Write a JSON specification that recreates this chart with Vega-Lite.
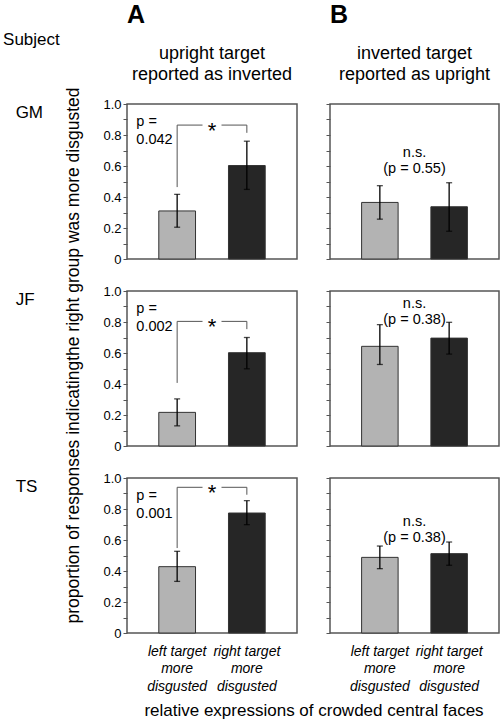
{
  "$schema": "https://vega.github.io/schema/vega-lite/v6.json",
  "background": "white",
  "padding": {"left": 2, "top": 2, "right": 0, "bottom": 0},
  "config": {"font": "Liberation Sans", "view": {"stroke": "#555555", "strokeWidth": 1.5}, "text": {"color": "#000000"}, "axisY": {"labelFontSize": 13, "labelColor": "#000000", "labelPadding": 2, "tickSize": 4, "tickColor": "#555555"}},
  "datasets": {
    "bars": [
      {"subject": "GM", "cond": "A", "group": "left target more disgusted", "value": 0.31, "lo": 0.205, "hi": 0.417},
      {"subject": "GM", "cond": "A", "group": "right target more disgusted", "value": 0.603, "lo": 0.449, "hi": 0.76},
      {"subject": "GM", "cond": "B", "group": "left target more disgusted", "value": 0.365, "lo": 0.257, "hi": 0.473},
      {"subject": "GM", "cond": "B", "group": "right target more disgusted", "value": 0.337, "lo": 0.179, "hi": 0.492},
      {"subject": "JF", "cond": "A", "group": "left target more disgusted", "value": 0.217, "lo": 0.13, "hi": 0.304},
      {"subject": "JF", "cond": "A", "group": "right target more disgusted", "value": 0.602, "lo": 0.498, "hi": 0.7},
      {"subject": "JF", "cond": "B", "group": "left target more disgusted", "value": 0.643, "lo": 0.526, "hi": 0.783},
      {"subject": "JF", "cond": "B", "group": "right target more disgusted", "value": 0.696, "lo": 0.593, "hi": 0.798},
      {"subject": "TS", "cond": "A", "group": "left target more disgusted", "value": 0.428, "lo": 0.333, "hi": 0.527},
      {"subject": "TS", "cond": "A", "group": "right target more disgusted", "value": 0.774, "lo": 0.699, "hi": 0.854},
      {"subject": "TS", "cond": "B", "group": "left target more disgusted", "value": 0.488, "lo": 0.415, "hi": 0.561},
      {"subject": "TS", "cond": "B", "group": "right target more disgusted", "value": 0.512, "lo": 0.437, "hi": 0.587}
    ],
    "bracket": [
      {"subject": "GM", "group": "left target more disgusted", "step": 1, "y": 0.464},
      {"subject": "GM", "group": "left target more disgusted", "step": 2, "y": 0.864},
      {"subject": "GM", "group": "right target more disgusted", "step": 3, "y": 0.864},
      {"subject": "GM", "group": "right target more disgusted", "step": 4, "y": 0.814},
      {"subject": "JF", "group": "left target more disgusted", "step": 1, "y": 0.407},
      {"subject": "JF", "group": "left target more disgusted", "step": 2, "y": 0.804},
      {"subject": "JF", "group": "right target more disgusted", "step": 3, "y": 0.804},
      {"subject": "JF", "group": "right target more disgusted", "step": 4, "y": 0.754},
      {"subject": "TS", "group": "left target more disgusted", "step": 1, "y": 0.548},
      {"subject": "TS", "group": "left target more disgusted", "step": 2, "y": 0.94},
      {"subject": "TS", "group": "right target more disgusted", "step": 3, "y": 0.94},
      {"subject": "TS", "group": "right target more disgusted", "step": 4, "y": 0.892}
    ],
    "sig": [
      {"subject": "GM", "p": "0.042"},
      {"subject": "JF", "p": "0.002"},
      {"subject": "TS", "p": "0.001"}
    ],
    "ns": [
      {"subject": "GM", "p": "0.55"},
      {"subject": "JF", "p": "0.38"},
      {"subject": "TS", "p": "0.38"}
    ]
  },
  "bounds": "flush",
  "columns": 2,
  "spacing": {"row": 32, "column": 33},
  "concat": [
    {
      "width": 170, "height": 155,
      "resolve": {"scale": {"x": "independent", "y": "independent"}},
      "layer": [
        {
          "layer": [
            {
              "data": {"name": "bars"},
              "transform": [{"filter": "datum.subject == 'GM' && datum.cond == 'A'"}],
              "mark": {"type": "bar", "stroke": "#333333", "strokeWidth": 1},
              "encoding": {
                "x": {"field": "group", "type": "nominal", "scale": {"domain": ["left target more disgusted", "right target more disgusted"], "paddingInner": 0.473, "paddingOuter": 0.456}, "axis": null},
                "y": {"field": "value", "type": "quantitative", "scale": {"domain": [0, 1]}, "axis": {"values": [0, 0.1, 0.2, 0.3, 0.4, 0.5, 0.6, 0.7, 0.8, 0.9, 1], "labelExpr": "datum.value == 0 ? '0' : (round(datum.value * 10) % 2 == 0 ? format(datum.value, '.1f') : '')", "domain": false, "grid": false, "tickSize": 4, "tickColor": "#555555", "tickWidth": 1, "labelFontSize": 13, "labelColor": "#000000", "labelPadding": 2, "labelFlush": false, "labelOverlap": false, "title": null}},
                "color": {"field": "group", "type": "nominal", "scale": {"domain": ["left target more disgusted", "right target more disgusted"], "range": ["#b3b3b3", "#262626"]}, "legend": null}
              }
            },
            {
              "data": {"name": "bars"},
              "transform": [{"filter": "datum.subject == 'GM' && datum.cond == 'A'"}],
              "mark": {"type": "rule", "color": "#000000", "strokeWidth": 1.3},
              "encoding": {
                "x": {"field": "group", "type": "nominal", "axis": null},
                "y": {"field": "lo", "type": "quantitative", "scale": {"domain": [0, 1]}, "axis": {"values": [0, 0.1, 0.2, 0.3, 0.4, 0.5, 0.6, 0.7, 0.8, 0.9, 1], "labelExpr": "datum.value == 0 ? '0' : (round(datum.value * 10) % 2 == 0 ? format(datum.value, '.1f') : '')", "domain": false, "grid": false, "tickSize": 4, "tickColor": "#555555", "tickWidth": 1, "labelFontSize": 13, "labelColor": "#000000", "labelPadding": 2, "labelFlush": false, "labelOverlap": false, "title": null}},
                "y2": {"field": "hi"}
              }
            },
            {
              "data": {"name": "bars"},
              "transform": [{"filter": "datum.subject == 'GM' && datum.cond == 'A'"}],
              "mark": {"type": "tick", "color": "#000000", "thickness": 1.3, "size": 6},
              "encoding": {
                "x": {"field": "group", "type": "nominal", "axis": null},
                "y": {"field": "lo", "type": "quantitative", "scale": {"domain": [0, 1]}, "axis": {"values": [0, 0.1, 0.2, 0.3, 0.4, 0.5, 0.6, 0.7, 0.8, 0.9, 1], "labelExpr": "datum.value == 0 ? '0' : (round(datum.value * 10) % 2 == 0 ? format(datum.value, '.1f') : '')", "domain": false, "grid": false, "tickSize": 4, "tickColor": "#555555", "tickWidth": 1, "labelFontSize": 13, "labelColor": "#000000", "labelPadding": 2, "labelFlush": false, "labelOverlap": false, "title": null}}
              }
            },
            {
              "data": {"name": "bars"},
              "transform": [{"filter": "datum.subject == 'GM' && datum.cond == 'A'"}],
              "mark": {"type": "tick", "color": "#000000", "thickness": 1.3, "size": 6},
              "encoding": {
                "x": {"field": "group", "type": "nominal", "axis": null},
                "y": {"field": "hi", "type": "quantitative", "scale": {"domain": [0, 1]}, "axis": {"values": [0, 0.1, 0.2, 0.3, 0.4, 0.5, 0.6, 0.7, 0.8, 0.9, 1], "labelExpr": "datum.value == 0 ? '0' : (round(datum.value * 10) % 2 == 0 ? format(datum.value, '.1f') : '')", "domain": false, "grid": false, "tickSize": 4, "tickColor": "#555555", "tickWidth": 1, "labelFontSize": 13, "labelColor": "#000000", "labelPadding": 2, "labelFlush": false, "labelOverlap": false, "title": null}}
              }
            },
            {
              "data": {"name": "bracket"},
              "transform": [{"filter": "datum.subject == 'GM'"}],
              "mark": {"type": "line", "color": "#555555", "strokeWidth": 1},
              "encoding": {
                "x": {"field": "group", "type": "nominal", "axis": null},
                "y": {"field": "y", "type": "quantitative", "scale": {"domain": [0, 1]}, "axis": {"values": [0, 0.1, 0.2, 0.3, 0.4, 0.5, 0.6, 0.7, 0.8, 0.9, 1], "labelExpr": "datum.value == 0 ? '0' : (round(datum.value * 10) % 2 == 0 ? format(datum.value, '.1f') : '')", "domain": false, "grid": false, "tickSize": 4, "tickColor": "#555555", "tickWidth": 1, "labelFontSize": 13, "labelColor": "#000000", "labelPadding": 2, "labelFlush": false, "labelOverlap": false, "title": null}},
                "order": {"field": "step", "type": "quantitative"}
              }
            },
            {
              "data": {"name": "bracket"},
              "transform": [{"filter": "datum.subject == 'GM' && datum.step == 2"}],
              "mark": {"type": "point", "shape": "M-1,-0.4L1,-0.4L1,0.4L-1,0.4Z", "size": 361, "filled": true, "color": "#ffffff", "opacity": 1, "strokeWidth": 0},
              "encoding": {
                "y": {"field": "y", "type": "quantitative", "scale": {"domain": [0, 1]}, "axis": {"values": [0, 0.1, 0.2, 0.3, 0.4, 0.5, 0.6, 0.7, 0.8, 0.9, 1], "labelExpr": "datum.value == 0 ? '0' : (round(datum.value * 10) % 2 == 0 ? format(datum.value, '.1f') : '')", "domain": false, "grid": false, "tickSize": 4, "tickColor": "#555555", "tickWidth": 1, "labelFontSize": 13, "labelColor": "#000000", "labelPadding": 2, "labelFlush": false, "labelOverlap": false, "title": null}}
              }
            },
            {
              "data": {"name": "bracket"},
              "transform": [{"filter": "datum.subject == 'GM' && datum.step == 2"}],
              "mark": {"type": "text", "text": "*", "fontSize": 22, "baseline": "alphabetic", "dy": 12.5},
              "encoding": {
                "y": {"field": "y", "type": "quantitative", "scale": {"domain": [0, 1]}, "axis": {"values": [0, 0.1, 0.2, 0.3, 0.4, 0.5, 0.6, 0.7, 0.8, 0.9, 1], "labelExpr": "datum.value == 0 ? '0' : (round(datum.value * 10) % 2 == 0 ? format(datum.value, '.1f') : '')", "domain": false, "grid": false, "tickSize": 4, "tickColor": "#555555", "tickWidth": 1, "labelFontSize": 13, "labelColor": "#000000", "labelPadding": 2, "labelFlush": false, "labelOverlap": false, "title": null}}
              }
            }
          ]
        },
        {
          "data": {"name": "sig"},
          "transform": [{"filter": "datum.subject == 'GM'"}, {"calculate": "['p =', datum.p]", "as": "label"}],
          "layer": [
            {
              "mark": {"type": "text", "align": "left", "baseline": "alphabetic", "fontSize": 14.5, "lineHeight": 17.5},
              "encoding": {
                "x": {"datum": 0.055, "type": "quantitative", "scale": {"domain": [0, 1]}, "axis": null},
                "y": {"datum": 0.856, "type": "quantitative", "scale": {"domain": [0, 1]}, "axis": null},
                "text": {"field": "label", "type": "nominal"}
              }
            },
            {
              "mark": {"type": "text", "align": "left", "baseline": "alphabetic", "fontSize": 17},
              "encoding": {
                "x": {"datum": -0.655, "type": "quantitative", "scale": {"domain": [0, 1]}, "axis": null},
                "y": {"datum": 0.91, "type": "quantitative", "scale": {"domain": [0, 1]}, "axis": null},
                "text": {"field": "subject", "type": "nominal"}
              }
            },
            {
              "mark": {"type": "text", "align": "left", "baseline": "alphabetic", "fontSize": 17, "text": "Subject"},
              "encoding": {
                "x": {"datum": -0.729, "type": "quantitative", "scale": {"domain": [0, 1]}, "axis": null},
                "y": {"datum": 1.381, "type": "quantitative", "scale": {"domain": [0, 1]}, "axis": null}
              }
            },
            {
              "mark": {"type": "text", "align": "left", "baseline": "alphabetic", "fontSize": 25, "fontWeight": "bold", "text": "A"},
              "encoding": {
                "x": {"datum": 0, "type": "quantitative", "scale": {"domain": [0, 1]}, "axis": null},
                "y": {"datum": 1.523, "type": "quantitative", "scale": {"domain": [0, 1]}, "axis": null}
              }
            },
            {
              "mark": {"type": "text", "align": "center", "baseline": "alphabetic", "fontSize": 18, "lineHeight": 21, "text": ["upright target", "reported as inverted"]},
              "encoding": {
                "y": {"datum": 1.29, "type": "quantitative", "scale": {"domain": [0, 1]}, "axis": null}
              }
            }
          ]
        }
      ]
    },
    {
      "width": 169, "height": 155,
      "resolve": {"scale": {"x": "independent", "y": "independent"}},
      "layer": [
        {
          "layer": [
            {
              "data": {"name": "bars"},
              "transform": [{"filter": "datum.subject == 'GM' && datum.cond == 'B'"}],
              "mark": {"type": "bar", "stroke": "#333333", "strokeWidth": 1},
              "encoding": {
                "x": {"field": "group", "type": "nominal", "scale": {"domain": ["left target more disgusted", "right target more disgusted"], "paddingInner": 0.473, "paddingOuter": 0.456}, "axis": null},
                "y": {"field": "value", "type": "quantitative", "scale": {"domain": [0, 1]}, "axis": {"values": [0, 0.1, 0.2, 0.3, 0.4, 0.5, 0.6, 0.7, 0.8, 0.9, 1], "labels": false, "domain": false, "grid": false, "tickSize": 4, "tickColor": "#555555", "tickWidth": 1, "title": null}},
                "color": {"field": "group", "type": "nominal", "scale": {"domain": ["left target more disgusted", "right target more disgusted"], "range": ["#b3b3b3", "#262626"]}, "legend": null}
              }
            },
            {
              "data": {"name": "bars"},
              "transform": [{"filter": "datum.subject == 'GM' && datum.cond == 'B'"}],
              "mark": {"type": "rule", "color": "#000000", "strokeWidth": 1.3},
              "encoding": {
                "x": {"field": "group", "type": "nominal", "axis": null},
                "y": {"field": "lo", "type": "quantitative", "scale": {"domain": [0, 1]}, "axis": {"values": [0, 0.1, 0.2, 0.3, 0.4, 0.5, 0.6, 0.7, 0.8, 0.9, 1], "labels": false, "domain": false, "grid": false, "tickSize": 4, "tickColor": "#555555", "tickWidth": 1, "title": null}},
                "y2": {"field": "hi"}
              }
            },
            {
              "data": {"name": "bars"},
              "transform": [{"filter": "datum.subject == 'GM' && datum.cond == 'B'"}],
              "mark": {"type": "tick", "color": "#000000", "thickness": 1.3, "size": 6},
              "encoding": {
                "x": {"field": "group", "type": "nominal", "axis": null},
                "y": {"field": "lo", "type": "quantitative", "scale": {"domain": [0, 1]}, "axis": {"values": [0, 0.1, 0.2, 0.3, 0.4, 0.5, 0.6, 0.7, 0.8, 0.9, 1], "labels": false, "domain": false, "grid": false, "tickSize": 4, "tickColor": "#555555", "tickWidth": 1, "title": null}}
              }
            },
            {
              "data": {"name": "bars"},
              "transform": [{"filter": "datum.subject == 'GM' && datum.cond == 'B'"}],
              "mark": {"type": "tick", "color": "#000000", "thickness": 1.3, "size": 6},
              "encoding": {
                "x": {"field": "group", "type": "nominal", "axis": null},
                "y": {"field": "hi", "type": "quantitative", "scale": {"domain": [0, 1]}, "axis": {"values": [0, 0.1, 0.2, 0.3, 0.4, 0.5, 0.6, 0.7, 0.8, 0.9, 1], "labels": false, "domain": false, "grid": false, "tickSize": 4, "tickColor": "#555555", "tickWidth": 1, "title": null}}
              }
            }
          ]
        },
        {
          "data": {"name": "ns"},
          "transform": [{"filter": "datum.subject == 'GM'"}, {"calculate": "['n.s.', '(p = ' + datum.p + ')']", "as": "label"}],
          "layer": [
            {
              "mark": {"type": "text", "align": "center", "baseline": "alphabetic", "fontSize": 14.5, "lineHeight": 16},
              "encoding": {
                "y": {"datum": 0.655, "type": "quantitative", "scale": {"domain": [0, 1]}, "axis": null},
                "text": {"field": "label", "type": "nominal"}
              }
            },
            {
              "mark": {"type": "text", "align": "left", "baseline": "alphabetic", "fontSize": 25, "fontWeight": "bold", "text": "B"},
              "encoding": {
                "x": {"datum": 0, "type": "quantitative", "scale": {"domain": [0, 1]}, "axis": null},
                "y": {"datum": 1.523, "type": "quantitative", "scale": {"domain": [0, 1]}, "axis": null}
              }
            },
            {
              "mark": {"type": "text", "align": "center", "baseline": "alphabetic", "fontSize": 18, "lineHeight": 21, "text": ["inverted target", "reported as upright"]},
              "encoding": {
                "y": {"datum": 1.29, "type": "quantitative", "scale": {"domain": [0, 1]}, "axis": null}
              }
            }
          ]
        }
      ]
    },
    {
      "width": 170, "height": 155,
      "resolve": {"scale": {"x": "independent", "y": "independent"}},
      "layer": [
        {
          "layer": [
            {
              "data": {"name": "bars"},
              "transform": [{"filter": "datum.subject == 'JF' && datum.cond == 'A'"}],
              "mark": {"type": "bar", "stroke": "#333333", "strokeWidth": 1},
              "encoding": {
                "x": {"field": "group", "type": "nominal", "scale": {"domain": ["left target more disgusted", "right target more disgusted"], "paddingInner": 0.473, "paddingOuter": 0.456}, "axis": null},
                "y": {"field": "value", "type": "quantitative", "scale": {"domain": [0, 1]}, "axis": {"values": [0, 0.1, 0.2, 0.3, 0.4, 0.5, 0.6, 0.7, 0.8, 0.9, 1], "labelExpr": "datum.value == 0 ? '0' : (round(datum.value * 10) % 2 == 0 ? format(datum.value, '.1f') : '')", "domain": false, "grid": false, "tickSize": 4, "tickColor": "#555555", "tickWidth": 1, "labelFontSize": 13, "labelColor": "#000000", "labelPadding": 2, "labelFlush": false, "labelOverlap": false, "title": "proportion of responses indicatingthe right group was more disgusted", "titleFontSize": 17.5, "titleFontWeight": "normal", "titleColor": "#000000", "titlePadding": 20, "titleY": 64}},
                "color": {"field": "group", "type": "nominal", "scale": {"domain": ["left target more disgusted", "right target more disgusted"], "range": ["#b3b3b3", "#262626"]}, "legend": null}
              }
            },
            {
              "data": {"name": "bars"},
              "transform": [{"filter": "datum.subject == 'JF' && datum.cond == 'A'"}],
              "mark": {"type": "rule", "color": "#000000", "strokeWidth": 1.3},
              "encoding": {
                "x": {"field": "group", "type": "nominal", "axis": null},
                "y": {"field": "lo", "type": "quantitative", "scale": {"domain": [0, 1]}, "axis": {"values": [0, 0.1, 0.2, 0.3, 0.4, 0.5, 0.6, 0.7, 0.8, 0.9, 1], "labelExpr": "datum.value == 0 ? '0' : (round(datum.value * 10) % 2 == 0 ? format(datum.value, '.1f') : '')", "domain": false, "grid": false, "tickSize": 4, "tickColor": "#555555", "tickWidth": 1, "labelFontSize": 13, "labelColor": "#000000", "labelPadding": 2, "labelFlush": false, "labelOverlap": false, "title": "proportion of responses indicatingthe right group was more disgusted", "titleFontSize": 17.5, "titleFontWeight": "normal", "titleColor": "#000000", "titlePadding": 20, "titleY": 64}},
                "y2": {"field": "hi"}
              }
            },
            {
              "data": {"name": "bars"},
              "transform": [{"filter": "datum.subject == 'JF' && datum.cond == 'A'"}],
              "mark": {"type": "tick", "color": "#000000", "thickness": 1.3, "size": 6},
              "encoding": {
                "x": {"field": "group", "type": "nominal", "axis": null},
                "y": {"field": "lo", "type": "quantitative", "scale": {"domain": [0, 1]}, "axis": {"values": [0, 0.1, 0.2, 0.3, 0.4, 0.5, 0.6, 0.7, 0.8, 0.9, 1], "labelExpr": "datum.value == 0 ? '0' : (round(datum.value * 10) % 2 == 0 ? format(datum.value, '.1f') : '')", "domain": false, "grid": false, "tickSize": 4, "tickColor": "#555555", "tickWidth": 1, "labelFontSize": 13, "labelColor": "#000000", "labelPadding": 2, "labelFlush": false, "labelOverlap": false, "title": "proportion of responses indicatingthe right group was more disgusted", "titleFontSize": 17.5, "titleFontWeight": "normal", "titleColor": "#000000", "titlePadding": 20, "titleY": 64}}
              }
            },
            {
              "data": {"name": "bars"},
              "transform": [{"filter": "datum.subject == 'JF' && datum.cond == 'A'"}],
              "mark": {"type": "tick", "color": "#000000", "thickness": 1.3, "size": 6},
              "encoding": {
                "x": {"field": "group", "type": "nominal", "axis": null},
                "y": {"field": "hi", "type": "quantitative", "scale": {"domain": [0, 1]}, "axis": {"values": [0, 0.1, 0.2, 0.3, 0.4, 0.5, 0.6, 0.7, 0.8, 0.9, 1], "labelExpr": "datum.value == 0 ? '0' : (round(datum.value * 10) % 2 == 0 ? format(datum.value, '.1f') : '')", "domain": false, "grid": false, "tickSize": 4, "tickColor": "#555555", "tickWidth": 1, "labelFontSize": 13, "labelColor": "#000000", "labelPadding": 2, "labelFlush": false, "labelOverlap": false, "title": "proportion of responses indicatingthe right group was more disgusted", "titleFontSize": 17.5, "titleFontWeight": "normal", "titleColor": "#000000", "titlePadding": 20, "titleY": 64}}
              }
            },
            {
              "data": {"name": "bracket"},
              "transform": [{"filter": "datum.subject == 'JF'"}],
              "mark": {"type": "line", "color": "#555555", "strokeWidth": 1},
              "encoding": {
                "x": {"field": "group", "type": "nominal", "axis": null},
                "y": {"field": "y", "type": "quantitative", "scale": {"domain": [0, 1]}, "axis": {"values": [0, 0.1, 0.2, 0.3, 0.4, 0.5, 0.6, 0.7, 0.8, 0.9, 1], "labelExpr": "datum.value == 0 ? '0' : (round(datum.value * 10) % 2 == 0 ? format(datum.value, '.1f') : '')", "domain": false, "grid": false, "tickSize": 4, "tickColor": "#555555", "tickWidth": 1, "labelFontSize": 13, "labelColor": "#000000", "labelPadding": 2, "labelFlush": false, "labelOverlap": false, "title": "proportion of responses indicatingthe right group was more disgusted", "titleFontSize": 17.5, "titleFontWeight": "normal", "titleColor": "#000000", "titlePadding": 20, "titleY": 64}},
                "order": {"field": "step", "type": "quantitative"}
              }
            },
            {
              "data": {"name": "bracket"},
              "transform": [{"filter": "datum.subject == 'JF' && datum.step == 2"}],
              "mark": {"type": "point", "shape": "M-1,-0.4L1,-0.4L1,0.4L-1,0.4Z", "size": 361, "filled": true, "color": "#ffffff", "opacity": 1, "strokeWidth": 0},
              "encoding": {
                "y": {"field": "y", "type": "quantitative", "scale": {"domain": [0, 1]}, "axis": {"values": [0, 0.1, 0.2, 0.3, 0.4, 0.5, 0.6, 0.7, 0.8, 0.9, 1], "labelExpr": "datum.value == 0 ? '0' : (round(datum.value * 10) % 2 == 0 ? format(datum.value, '.1f') : '')", "domain": false, "grid": false, "tickSize": 4, "tickColor": "#555555", "tickWidth": 1, "labelFontSize": 13, "labelColor": "#000000", "labelPadding": 2, "labelFlush": false, "labelOverlap": false, "title": "proportion of responses indicatingthe right group was more disgusted", "titleFontSize": 17.5, "titleFontWeight": "normal", "titleColor": "#000000", "titlePadding": 20, "titleY": 64}}
              }
            },
            {
              "data": {"name": "bracket"},
              "transform": [{"filter": "datum.subject == 'JF' && datum.step == 2"}],
              "mark": {"type": "text", "text": "*", "fontSize": 22, "baseline": "alphabetic", "dy": 12.5},
              "encoding": {
                "y": {"field": "y", "type": "quantitative", "scale": {"domain": [0, 1]}, "axis": {"values": [0, 0.1, 0.2, 0.3, 0.4, 0.5, 0.6, 0.7, 0.8, 0.9, 1], "labelExpr": "datum.value == 0 ? '0' : (round(datum.value * 10) % 2 == 0 ? format(datum.value, '.1f') : '')", "domain": false, "grid": false, "tickSize": 4, "tickColor": "#555555", "tickWidth": 1, "labelFontSize": 13, "labelColor": "#000000", "labelPadding": 2, "labelFlush": false, "labelOverlap": false, "title": "proportion of responses indicatingthe right group was more disgusted", "titleFontSize": 17.5, "titleFontWeight": "normal", "titleColor": "#000000", "titlePadding": 20, "titleY": 64}}
              }
            }
          ]
        },
        {
          "data": {"name": "sig"},
          "transform": [{"filter": "datum.subject == 'JF'"}, {"calculate": "['p =', datum.p]", "as": "label"}],
          "layer": [
            {
              "mark": {"type": "text", "align": "left", "baseline": "alphabetic", "fontSize": 14.5, "lineHeight": 17.5},
              "encoding": {
                "x": {"datum": 0.055, "type": "quantitative", "scale": {"domain": [0, 1]}, "axis": null},
                "y": {"datum": 0.856, "type": "quantitative", "scale": {"domain": [0, 1]}, "axis": null},
                "text": {"field": "label", "type": "nominal"}
              }
            },
            {
              "mark": {"type": "text", "align": "left", "baseline": "alphabetic", "fontSize": 17},
              "encoding": {
                "x": {"datum": -0.655, "type": "quantitative", "scale": {"domain": [0, 1]}, "axis": null},
                "y": {"datum": 0.91, "type": "quantitative", "scale": {"domain": [0, 1]}, "axis": null},
                "text": {"field": "subject", "type": "nominal"}
              }
            }
          ]
        }
      ]
    },
    {
      "width": 169, "height": 155,
      "resolve": {"scale": {"x": "independent", "y": "independent"}},
      "layer": [
        {
          "layer": [
            {
              "data": {"name": "bars"},
              "transform": [{"filter": "datum.subject == 'JF' && datum.cond == 'B'"}],
              "mark": {"type": "bar", "stroke": "#333333", "strokeWidth": 1},
              "encoding": {
                "x": {"field": "group", "type": "nominal", "scale": {"domain": ["left target more disgusted", "right target more disgusted"], "paddingInner": 0.473, "paddingOuter": 0.456}, "axis": null},
                "y": {"field": "value", "type": "quantitative", "scale": {"domain": [0, 1]}, "axis": {"values": [0, 0.1, 0.2, 0.3, 0.4, 0.5, 0.6, 0.7, 0.8, 0.9, 1], "labels": false, "domain": false, "grid": false, "tickSize": 4, "tickColor": "#555555", "tickWidth": 1, "title": null}},
                "color": {"field": "group", "type": "nominal", "scale": {"domain": ["left target more disgusted", "right target more disgusted"], "range": ["#b3b3b3", "#262626"]}, "legend": null}
              }
            },
            {
              "data": {"name": "bars"},
              "transform": [{"filter": "datum.subject == 'JF' && datum.cond == 'B'"}],
              "mark": {"type": "rule", "color": "#000000", "strokeWidth": 1.3},
              "encoding": {
                "x": {"field": "group", "type": "nominal", "axis": null},
                "y": {"field": "lo", "type": "quantitative", "scale": {"domain": [0, 1]}, "axis": {"values": [0, 0.1, 0.2, 0.3, 0.4, 0.5, 0.6, 0.7, 0.8, 0.9, 1], "labels": false, "domain": false, "grid": false, "tickSize": 4, "tickColor": "#555555", "tickWidth": 1, "title": null}},
                "y2": {"field": "hi"}
              }
            },
            {
              "data": {"name": "bars"},
              "transform": [{"filter": "datum.subject == 'JF' && datum.cond == 'B'"}],
              "mark": {"type": "tick", "color": "#000000", "thickness": 1.3, "size": 6},
              "encoding": {
                "x": {"field": "group", "type": "nominal", "axis": null},
                "y": {"field": "lo", "type": "quantitative", "scale": {"domain": [0, 1]}, "axis": {"values": [0, 0.1, 0.2, 0.3, 0.4, 0.5, 0.6, 0.7, 0.8, 0.9, 1], "labels": false, "domain": false, "grid": false, "tickSize": 4, "tickColor": "#555555", "tickWidth": 1, "title": null}}
              }
            },
            {
              "data": {"name": "bars"},
              "transform": [{"filter": "datum.subject == 'JF' && datum.cond == 'B'"}],
              "mark": {"type": "tick", "color": "#000000", "thickness": 1.3, "size": 6},
              "encoding": {
                "x": {"field": "group", "type": "nominal", "axis": null},
                "y": {"field": "hi", "type": "quantitative", "scale": {"domain": [0, 1]}, "axis": {"values": [0, 0.1, 0.2, 0.3, 0.4, 0.5, 0.6, 0.7, 0.8, 0.9, 1], "labels": false, "domain": false, "grid": false, "tickSize": 4, "tickColor": "#555555", "tickWidth": 1, "title": null}}
              }
            }
          ]
        },
        {
          "data": {"name": "ns"},
          "transform": [{"filter": "datum.subject == 'JF'"}, {"calculate": "['n.s.', '(p = ' + datum.p + ')']", "as": "label"}],
          "layer": [
            {
              "mark": {"type": "text", "align": "center", "baseline": "alphabetic", "fontSize": 14.5, "lineHeight": 16},
              "encoding": {
                "y": {"datum": 0.892, "type": "quantitative", "scale": {"domain": [0, 1]}, "axis": null},
                "text": {"field": "label", "type": "nominal"}
              }
            }
          ]
        }
      ]
    },
    {
      "width": 170, "height": 155,
      "resolve": {"scale": {"x": "independent", "y": "independent"}},
      "layer": [
        {
          "layer": [
            {
              "data": {"name": "bars"},
              "transform": [{"filter": "datum.subject == 'TS' && datum.cond == 'A'"}],
              "mark": {"type": "bar", "stroke": "#333333", "strokeWidth": 1},
              "encoding": {
                "x": {"field": "group", "type": "nominal", "scale": {"domain": ["left target more disgusted", "right target more disgusted"], "paddingInner": 0.473, "paddingOuter": 0.456}, "axis": {"title": null, "domain": false, "ticks": false, "tickSize": 0, "labelExpr": "split(replace(datum.value, ' more ', '|more|'), '|')", "labelFontSize": 14, "labelFontStyle": "italic", "labelColor": "#000000", "labelPadding": 11, "labelLineHeight": 17.5, "labelAngle": 0, "labelLimit": 0, "labelOverlap": false}},
                "y": {"field": "value", "type": "quantitative", "scale": {"domain": [0, 1]}, "axis": {"values": [0, 0.1, 0.2, 0.3, 0.4, 0.5, 0.6, 0.7, 0.8, 0.9, 1], "labelExpr": "datum.value == 0 ? '0' : (round(datum.value * 10) % 2 == 0 ? format(datum.value, '.1f') : '')", "domain": false, "grid": false, "tickSize": 4, "tickColor": "#555555", "tickWidth": 1, "labelFontSize": 13, "labelColor": "#000000", "labelPadding": 2, "labelFlush": false, "labelOverlap": false, "title": null}},
                "color": {"field": "group", "type": "nominal", "scale": {"domain": ["left target more disgusted", "right target more disgusted"], "range": ["#b3b3b3", "#262626"]}, "legend": null}
              }
            },
            {
              "data": {"name": "bars"},
              "transform": [{"filter": "datum.subject == 'TS' && datum.cond == 'A'"}],
              "mark": {"type": "rule", "color": "#000000", "strokeWidth": 1.3},
              "encoding": {
                "x": {"field": "group", "type": "nominal", "axis": {"title": null, "domain": false, "ticks": false, "tickSize": 0, "labelExpr": "split(replace(datum.value, ' more ', '|more|'), '|')", "labelFontSize": 14, "labelFontStyle": "italic", "labelColor": "#000000", "labelPadding": 11, "labelLineHeight": 17.5, "labelAngle": 0, "labelLimit": 0, "labelOverlap": false}},
                "y": {"field": "lo", "type": "quantitative", "scale": {"domain": [0, 1]}, "axis": {"values": [0, 0.1, 0.2, 0.3, 0.4, 0.5, 0.6, 0.7, 0.8, 0.9, 1], "labelExpr": "datum.value == 0 ? '0' : (round(datum.value * 10) % 2 == 0 ? format(datum.value, '.1f') : '')", "domain": false, "grid": false, "tickSize": 4, "tickColor": "#555555", "tickWidth": 1, "labelFontSize": 13, "labelColor": "#000000", "labelPadding": 2, "labelFlush": false, "labelOverlap": false, "title": null}},
                "y2": {"field": "hi"}
              }
            },
            {
              "data": {"name": "bars"},
              "transform": [{"filter": "datum.subject == 'TS' && datum.cond == 'A'"}],
              "mark": {"type": "tick", "color": "#000000", "thickness": 1.3, "size": 6},
              "encoding": {
                "x": {"field": "group", "type": "nominal", "axis": {"title": null, "domain": false, "ticks": false, "tickSize": 0, "labelExpr": "split(replace(datum.value, ' more ', '|more|'), '|')", "labelFontSize": 14, "labelFontStyle": "italic", "labelColor": "#000000", "labelPadding": 11, "labelLineHeight": 17.5, "labelAngle": 0, "labelLimit": 0, "labelOverlap": false}},
                "y": {"field": "lo", "type": "quantitative", "scale": {"domain": [0, 1]}, "axis": {"values": [0, 0.1, 0.2, 0.3, 0.4, 0.5, 0.6, 0.7, 0.8, 0.9, 1], "labelExpr": "datum.value == 0 ? '0' : (round(datum.value * 10) % 2 == 0 ? format(datum.value, '.1f') : '')", "domain": false, "grid": false, "tickSize": 4, "tickColor": "#555555", "tickWidth": 1, "labelFontSize": 13, "labelColor": "#000000", "labelPadding": 2, "labelFlush": false, "labelOverlap": false, "title": null}}
              }
            },
            {
              "data": {"name": "bars"},
              "transform": [{"filter": "datum.subject == 'TS' && datum.cond == 'A'"}],
              "mark": {"type": "tick", "color": "#000000", "thickness": 1.3, "size": 6},
              "encoding": {
                "x": {"field": "group", "type": "nominal", "axis": {"title": null, "domain": false, "ticks": false, "tickSize": 0, "labelExpr": "split(replace(datum.value, ' more ', '|more|'), '|')", "labelFontSize": 14, "labelFontStyle": "italic", "labelColor": "#000000", "labelPadding": 11, "labelLineHeight": 17.5, "labelAngle": 0, "labelLimit": 0, "labelOverlap": false}},
                "y": {"field": "hi", "type": "quantitative", "scale": {"domain": [0, 1]}, "axis": {"values": [0, 0.1, 0.2, 0.3, 0.4, 0.5, 0.6, 0.7, 0.8, 0.9, 1], "labelExpr": "datum.value == 0 ? '0' : (round(datum.value * 10) % 2 == 0 ? format(datum.value, '.1f') : '')", "domain": false, "grid": false, "tickSize": 4, "tickColor": "#555555", "tickWidth": 1, "labelFontSize": 13, "labelColor": "#000000", "labelPadding": 2, "labelFlush": false, "labelOverlap": false, "title": null}}
              }
            },
            {
              "data": {"name": "bracket"},
              "transform": [{"filter": "datum.subject == 'TS'"}],
              "mark": {"type": "line", "color": "#555555", "strokeWidth": 1},
              "encoding": {
                "x": {"field": "group", "type": "nominal", "axis": {"title": null, "domain": false, "ticks": false, "tickSize": 0, "labelExpr": "split(replace(datum.value, ' more ', '|more|'), '|')", "labelFontSize": 14, "labelFontStyle": "italic", "labelColor": "#000000", "labelPadding": 11, "labelLineHeight": 17.5, "labelAngle": 0, "labelLimit": 0, "labelOverlap": false}},
                "y": {"field": "y", "type": "quantitative", "scale": {"domain": [0, 1]}, "axis": {"values": [0, 0.1, 0.2, 0.3, 0.4, 0.5, 0.6, 0.7, 0.8, 0.9, 1], "labelExpr": "datum.value == 0 ? '0' : (round(datum.value * 10) % 2 == 0 ? format(datum.value, '.1f') : '')", "domain": false, "grid": false, "tickSize": 4, "tickColor": "#555555", "tickWidth": 1, "labelFontSize": 13, "labelColor": "#000000", "labelPadding": 2, "labelFlush": false, "labelOverlap": false, "title": null}},
                "order": {"field": "step", "type": "quantitative"}
              }
            },
            {
              "data": {"name": "bracket"},
              "transform": [{"filter": "datum.subject == 'TS' && datum.step == 2"}],
              "mark": {"type": "point", "shape": "M-1,-0.4L1,-0.4L1,0.4L-1,0.4Z", "size": 361, "filled": true, "color": "#ffffff", "opacity": 1, "strokeWidth": 0},
              "encoding": {
                "y": {"field": "y", "type": "quantitative", "scale": {"domain": [0, 1]}, "axis": {"values": [0, 0.1, 0.2, 0.3, 0.4, 0.5, 0.6, 0.7, 0.8, 0.9, 1], "labelExpr": "datum.value == 0 ? '0' : (round(datum.value * 10) % 2 == 0 ? format(datum.value, '.1f') : '')", "domain": false, "grid": false, "tickSize": 4, "tickColor": "#555555", "tickWidth": 1, "labelFontSize": 13, "labelColor": "#000000", "labelPadding": 2, "labelFlush": false, "labelOverlap": false, "title": null}}
              }
            },
            {
              "data": {"name": "bracket"},
              "transform": [{"filter": "datum.subject == 'TS' && datum.step == 2"}],
              "mark": {"type": "text", "text": "*", "fontSize": 22, "baseline": "alphabetic", "dy": 12.5},
              "encoding": {
                "y": {"field": "y", "type": "quantitative", "scale": {"domain": [0, 1]}, "axis": {"values": [0, 0.1, 0.2, 0.3, 0.4, 0.5, 0.6, 0.7, 0.8, 0.9, 1], "labelExpr": "datum.value == 0 ? '0' : (round(datum.value * 10) % 2 == 0 ? format(datum.value, '.1f') : '')", "domain": false, "grid": false, "tickSize": 4, "tickColor": "#555555", "tickWidth": 1, "labelFontSize": 13, "labelColor": "#000000", "labelPadding": 2, "labelFlush": false, "labelOverlap": false, "title": null}}
              }
            }
          ]
        },
        {
          "data": {"name": "sig"},
          "transform": [{"filter": "datum.subject == 'TS'"}, {"calculate": "['p =', datum.p]", "as": "label"}],
          "layer": [
            {
              "mark": {"type": "text", "align": "left", "baseline": "alphabetic", "fontSize": 14.5, "lineHeight": 17.5},
              "encoding": {
                "x": {"datum": 0.055, "type": "quantitative", "scale": {"domain": [0, 1]}, "axis": null},
                "y": {"datum": 0.856, "type": "quantitative", "scale": {"domain": [0, 1]}, "axis": null},
                "text": {"field": "label", "type": "nominal"}
              }
            },
            {
              "mark": {"type": "text", "align": "left", "baseline": "alphabetic", "fontSize": 17},
              "encoding": {
                "x": {"datum": -0.655, "type": "quantitative", "scale": {"domain": [0, 1]}, "axis": null},
                "y": {"datum": 0.91, "type": "quantitative", "scale": {"domain": [0, 1]}, "axis": null},
                "text": {"field": "subject", "type": "nominal"}
              }
            },
            {
              "mark": {"type": "text", "align": "center", "baseline": "alphabetic", "fontSize": 17, "text": "relative expressions of crowded central faces"},
              "encoding": {
                "x": {"datum": 1.1, "type": "quantitative", "scale": {"domain": [0, 1]}, "axis": null},
                "y": {"datum": -0.538, "type": "quantitative", "scale": {"domain": [0, 1]}, "axis": null}
              }
            }
          ]
        }
      ]
    },
    {
      "width": 169, "height": 155,
      "resolve": {"scale": {"x": "independent", "y": "independent"}},
      "layer": [
        {
          "layer": [
            {
              "data": {"name": "bars"},
              "transform": [{"filter": "datum.subject == 'TS' && datum.cond == 'B'"}],
              "mark": {"type": "bar", "stroke": "#333333", "strokeWidth": 1},
              "encoding": {
                "x": {"field": "group", "type": "nominal", "scale": {"domain": ["left target more disgusted", "right target more disgusted"], "paddingInner": 0.473, "paddingOuter": 0.456}, "axis": {"title": null, "domain": false, "ticks": false, "tickSize": 0, "labelExpr": "split(replace(datum.value, ' more ', '|more|'), '|')", "labelFontSize": 14, "labelFontStyle": "italic", "labelColor": "#000000", "labelPadding": 11, "labelLineHeight": 17.5, "labelAngle": 0, "labelLimit": 0, "labelOverlap": false}},
                "y": {"field": "value", "type": "quantitative", "scale": {"domain": [0, 1]}, "axis": {"values": [0, 0.1, 0.2, 0.3, 0.4, 0.5, 0.6, 0.7, 0.8, 0.9, 1], "labels": false, "domain": false, "grid": false, "tickSize": 4, "tickColor": "#555555", "tickWidth": 1, "title": null}},
                "color": {"field": "group", "type": "nominal", "scale": {"domain": ["left target more disgusted", "right target more disgusted"], "range": ["#b3b3b3", "#262626"]}, "legend": null}
              }
            },
            {
              "data": {"name": "bars"},
              "transform": [{"filter": "datum.subject == 'TS' && datum.cond == 'B'"}],
              "mark": {"type": "rule", "color": "#000000", "strokeWidth": 1.3},
              "encoding": {
                "x": {"field": "group", "type": "nominal", "axis": {"title": null, "domain": false, "ticks": false, "tickSize": 0, "labelExpr": "split(replace(datum.value, ' more ', '|more|'), '|')", "labelFontSize": 14, "labelFontStyle": "italic", "labelColor": "#000000", "labelPadding": 11, "labelLineHeight": 17.5, "labelAngle": 0, "labelLimit": 0, "labelOverlap": false}},
                "y": {"field": "lo", "type": "quantitative", "scale": {"domain": [0, 1]}, "axis": {"values": [0, 0.1, 0.2, 0.3, 0.4, 0.5, 0.6, 0.7, 0.8, 0.9, 1], "labels": false, "domain": false, "grid": false, "tickSize": 4, "tickColor": "#555555", "tickWidth": 1, "title": null}},
                "y2": {"field": "hi"}
              }
            },
            {
              "data": {"name": "bars"},
              "transform": [{"filter": "datum.subject == 'TS' && datum.cond == 'B'"}],
              "mark": {"type": "tick", "color": "#000000", "thickness": 1.3, "size": 6},
              "encoding": {
                "x": {"field": "group", "type": "nominal", "axis": {"title": null, "domain": false, "ticks": false, "tickSize": 0, "labelExpr": "split(replace(datum.value, ' more ', '|more|'), '|')", "labelFontSize": 14, "labelFontStyle": "italic", "labelColor": "#000000", "labelPadding": 11, "labelLineHeight": 17.5, "labelAngle": 0, "labelLimit": 0, "labelOverlap": false}},
                "y": {"field": "lo", "type": "quantitative", "scale": {"domain": [0, 1]}, "axis": {"values": [0, 0.1, 0.2, 0.3, 0.4, 0.5, 0.6, 0.7, 0.8, 0.9, 1], "labels": false, "domain": false, "grid": false, "tickSize": 4, "tickColor": "#555555", "tickWidth": 1, "title": null}}
              }
            },
            {
              "data": {"name": "bars"},
              "transform": [{"filter": "datum.subject == 'TS' && datum.cond == 'B'"}],
              "mark": {"type": "tick", "color": "#000000", "thickness": 1.3, "size": 6},
              "encoding": {
                "x": {"field": "group", "type": "nominal", "axis": {"title": null, "domain": false, "ticks": false, "tickSize": 0, "labelExpr": "split(replace(datum.value, ' more ', '|more|'), '|')", "labelFontSize": 14, "labelFontStyle": "italic", "labelColor": "#000000", "labelPadding": 11, "labelLineHeight": 17.5, "labelAngle": 0, "labelLimit": 0, "labelOverlap": false}},
                "y": {"field": "hi", "type": "quantitative", "scale": {"domain": [0, 1]}, "axis": {"values": [0, 0.1, 0.2, 0.3, 0.4, 0.5, 0.6, 0.7, 0.8, 0.9, 1], "labels": false, "domain": false, "grid": false, "tickSize": 4, "tickColor": "#555555", "tickWidth": 1, "title": null}}
              }
            }
          ]
        },
        {
          "data": {"name": "ns"},
          "transform": [{"filter": "datum.subject == 'TS'"}, {"calculate": "['n.s.', '(p = ' + datum.p + ')']", "as": "label"}],
          "layer": [
            {
              "mark": {"type": "text", "align": "center", "baseline": "alphabetic", "fontSize": 14.5, "lineHeight": 16},
              "encoding": {
                "y": {"datum": 0.69, "type": "quantitative", "scale": {"domain": [0, 1]}, "axis": null},
                "text": {"field": "label", "type": "nominal"}
              }
            }
          ]
        }
      ]
    }
  ]
}
